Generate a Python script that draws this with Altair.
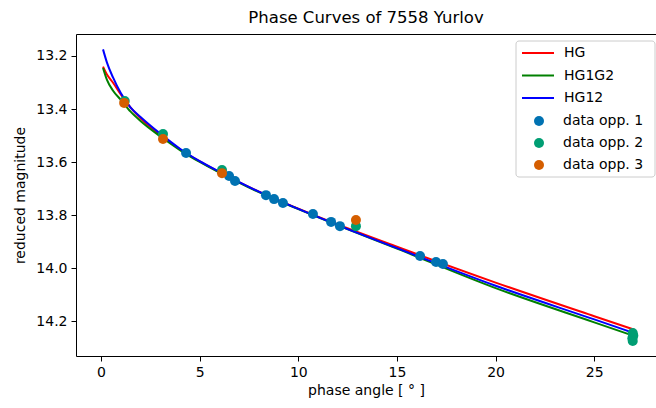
import altair as alt
import pandas as pd

# ---- data ----
curve_x = [0.1, 0.3, 0.6, 1.0, 1.5, 2.0, 3.0, 4.0, 5.0, 6.0, 8.0, 10.0, 12.0, 15.0, 20.0, 25.0, 27.0]
hg_mag = [13.24, 13.27, 13.30, 13.345, 13.395, 13.435, 13.497, 13.552, 13.598, 13.638, 13.712, 13.776, 13.836, 13.92, 14.055, 14.182, 14.232]
hg1g2_mag = [13.245, 13.29, 13.33, 13.365, 13.41, 13.445, 13.503, 13.555, 13.600, 13.640, 13.714, 13.778, 13.839, 13.927, 14.076, 14.205, 14.256]
hg12_mag = [13.175, 13.225, 13.28, 13.34, 13.395, 13.43, 13.493, 13.55, 13.597, 13.637, 13.712, 13.777, 13.838, 13.925, 14.067, 14.194, 14.245]

opp1_x = [4.31, 6.49, 6.79, 8.36, 8.77, 9.22, 10.74, 11.66, 12.11, 16.17, 16.98, 17.33]
opp1_mag = [13.566, 13.653, 13.672, 13.725, 13.740, 13.755, 13.796, 13.826, 13.842, 13.955, 13.977, 13.985]
opp2_x = [1.20, 3.14, 6.13, 12.92, 26.95, 26.98, 26.93, 26.95]
opp2_mag = [13.370, 13.494, 13.630, 13.842, 14.245, 14.255, 14.265, 14.275]
opp3_x = [1.17, 3.14, 6.13, 12.92]
opp3_mag = [13.377, 13.513, 13.642, 13.819]

models = ["HG", "HG1G2", "HG12"]
model_colors = ["#ff0000", "#008000", "#0000ff"]
opps = ["data opp. 1", "data opp. 2", "data opp. 3"]
opp_colors = ["#0072B2", "#009E73", "#D55E00"]

FONT = "DejaVu Sans"

curves = pd.concat([
    pd.DataFrame({"alpha": curve_x, "mag": m, "model": name, "order": i})
    for i, (name, m) in enumerate(zip(models, [hg_mag, hg1g2_mag, hg12_mag]))
])
points = pd.concat([
    pd.DataFrame({"alpha": xs, "mag": ms, "opp": name, "order": i})
    for i, (name, xs, ms) in enumerate(zip(opps, [opp1_x, opp2_x, opp3_x], [opp1_mag, opp2_mag, opp3_mag]))
])

xscale = alt.Scale(domain=[-1.27, 28.13], nice=False, zero=False)
yscale = alt.Scale(domain=[13.117, 14.332], nice=False, zero=False, reverse=True)

xenc = alt.X("alpha:Q", scale=xscale,
             axis=alt.Axis(title="phase angle [ ° ]", values=[0, 5, 10, 15, 20, 25], format="d"))
yenc = alt.Y("mag:Q", scale=yscale,
             axis=alt.Axis(title="reduced magnitude", values=[13.2, 13.4, 13.6, 13.8, 14.0, 14.2], format=".1f"))

line_legend = alt.Legend(title=None, orient="none", legendX=450, legendY=7,
                         symbolType="M-1.5,0L1.5,0", symbolSize=455, symbolStrokeWidth=2,
                         labelFontSize=14, labelFont=FONT, labelColor="#000",
                         labelFontWeight="normal",
                         rowPadding=3.5, labelOffset=14, padding=0)
point_legend = alt.Legend(title=None, orient="none", legendX=456, legendY=80,
                          symbolType="circle", symbolSize=100, symbolStrokeWidth=0,
                          labelFontSize=14, labelFont=FONT, labelColor="#000",
                          labelFontWeight="normal",
                          rowPadding=8, labelOffset=17, padding=0)

color_scale = alt.Scale(domain=models, range=model_colors)
fill_scale = alt.Scale(domain=opps, range=opp_colors)

lines_layers = []
for i, name in enumerate(models):
    lines_layers.append(
        alt.Chart(curves[curves.model == name]).mark_line(strokeWidth=2, interpolate="monotone").encode(
            x=xenc, y=yenc,
            color=alt.Color("model:N", scale=color_scale, legend=line_legend if i == 0 else None),
            order="order:Q",
        )
    )

point_layers = []
for i, name in enumerate(opps):
    point_layers.append(
        alt.Chart(points[points.opp == name]).mark_circle(size=100, opacity=1).encode(
            x=xenc, y=yenc,
            fill=alt.Fill("opp:N", scale=fill_scale, legend=point_legend if i == 0 else None),
        )
    )

box = alt.Chart(pd.DataFrame({"a": [0]})).mark_rect(
    fill="white", fillOpacity=0.8, stroke="#cccccc", strokeWidth=1, cornerRadius=3
).encode(x=alt.value(440), x2=alt.value(579), y=alt.value(7), y2=alt.value(143))

chart = alt.layer(*lines_layers, *point_layers, box).properties(
    width=580, height=322,
    autosize=alt.AutoSizeParams(type="none"),
    padding={"left": 76, "top": 34, "right": 0, "bottom": 52},
    title=alt.Title("Phase Curves of 7558 Yurlov", fontSize=16.5, font=FONT, fontWeight="normal",
                    color="#000", anchor="middle", offset=8),
    background="white",
).configure_view(
    stroke="#000", strokeWidth=1
).configure_axis(
    labelFont=FONT, labelFontSize=14, labelColor="#000", titleFont=FONT, titleFontSize=14,
    titleFontWeight="normal", titleColor="#000", tickColor="#000", tickSize=5, domain=False,
    grid=False, labelPadding=4,
).configure_axisX(titlePadding=4).configure_axisY(titlePadding=8)

chart.save("out.html", embed_options={"renderer": "svg", "actions": False})
